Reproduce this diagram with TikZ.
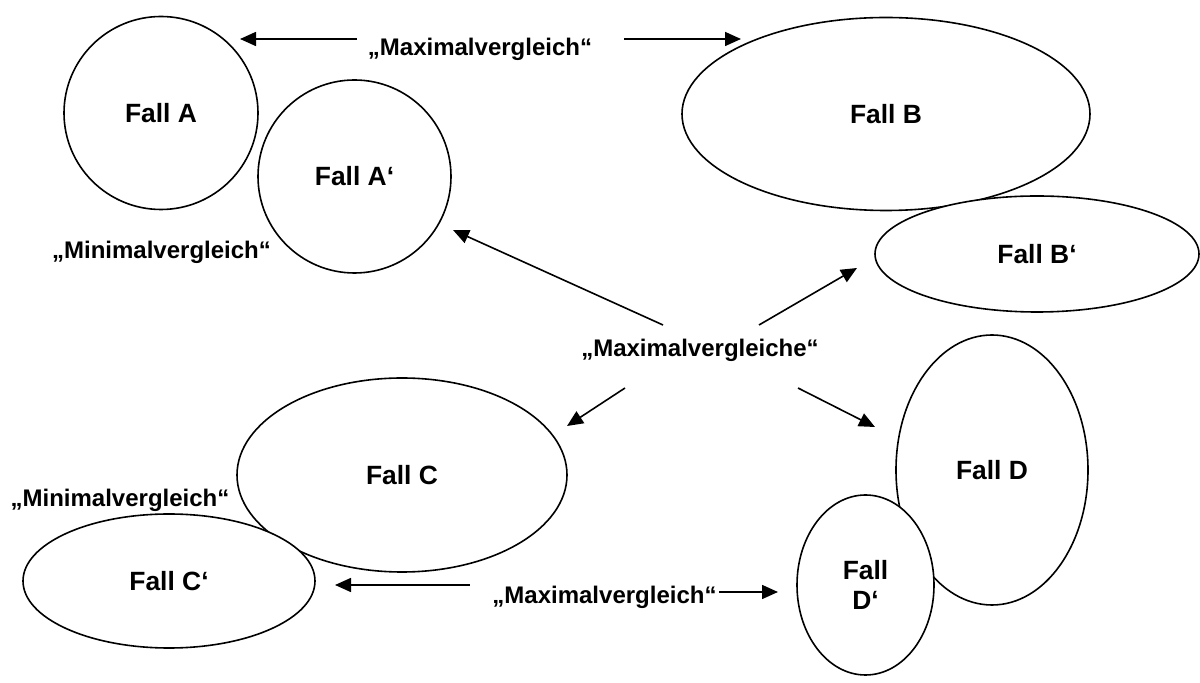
\documentclass[tikz,border=0pt]{standalone}
\usepackage{fontspec}
\setmainfont{Liberation Sans}
\usetikzlibrary{shapes.geometric,arrows.meta}

\tikzset{
  fall/.style={draw, fill=white, ellipse, line width=0.8pt, inner sep=0pt, align=center,
    font=\fontsize{13.2}{15}\selectfont\bfseries},
  vgl/.style={anchor=base, inner sep=0pt, font=\fontsize{12}{14}\selectfont\bfseries},
  pfeil/.style={line width=0.8pt, -{Triangle[length=8pt,width=7pt]}}
}

\begin{document}
\begin{tikzpicture}[x=0.5pt,y=-0.5pt]
\useasboundingbox (0,0) rectangle (1200,683);
%-------->cases<--------------
\node[fall, minimum width=97pt, minimum height=96.5pt] (fallA) at (161,113) {Fall A}; % A
\node[fall, minimum width=96.5pt, minimum height=96.5pt] (fallAs) at (354.5,176.5) {Fall A‘}; % A'
\node[fall, minimum width=204pt, minimum height=96.5pt] (fallB) at (886,114) {Fall B}; % B
\node[fall, minimum width=162pt, minimum height=58pt] (fallBs) at (1037,254) {Fall B‘}; % B'
\node[fall, minimum width=165pt, minimum height=97pt] (fallC) at (402,475) {Fall C}; % C
\node[fall, minimum width=146pt, minimum height=67pt] (fallCs) at (169,581) {Fall C‘}; % C'
\node[fall, minimum width=96pt, minimum height=135pt] (fallD) at (992,470) {Fall D}; % D
\node[fall, minimum width=68.5pt, minimum height=90pt] (fallDs) at (865.5,585) {Fall\\D‘}; % D'
%-------->comparisons<--------------
\node[vgl] (maxTop) at (480,56) {„Maximalvergleich“};
\node[vgl] (minTop) at (161.5,259) {„Minimalvergleich“};
\node[vgl] (maxMid) at (700,357) {„Maximalvergleiche“};
\node[vgl] (minBot) at (120,507) {„Minimalvergleich“};
\node[vgl] (maxBot) at (604.5,604) {„Maximalvergleich“};
%------------->arrow ends<------------------
\coordinate (tl1) at (357,39);  \coordinate (hl1) at (240,39);
\coordinate (tr1) at (624,39);  \coordinate (hr1) at (741,39);
\coordinate (tl2) at (663,325); \coordinate (hl2) at (453,230);
\coordinate (tr2) at (759,325); \coordinate (hr2) at (857,268);
\coordinate (tl3) at (625,388); \coordinate (hl3) at (567,426);
\coordinate (tr3) at (798,388); \coordinate (hr3) at (875,427);
\coordinate (tl4) at (470,585); \coordinate (hl4) at (335,585);
\coordinate (tr4) at (719,592); \coordinate (hr4) at (778,592);
%------------->arrows<------------------
\draw[pfeil] (tl1) -- (hl1);
\draw[pfeil] (tr1) -- (hr1);
\draw[pfeil] (tl2) -- (hl2);
\draw[pfeil] (tr2) -- (hr2);
\draw[pfeil] (tl3) -- (hl3);
\draw[pfeil] (tr3) -- (hr3);
\draw[pfeil] (tl4) -- (hl4);
\draw[pfeil] (tr4) -- (hr4);
\end{tikzpicture}
\end{document}
